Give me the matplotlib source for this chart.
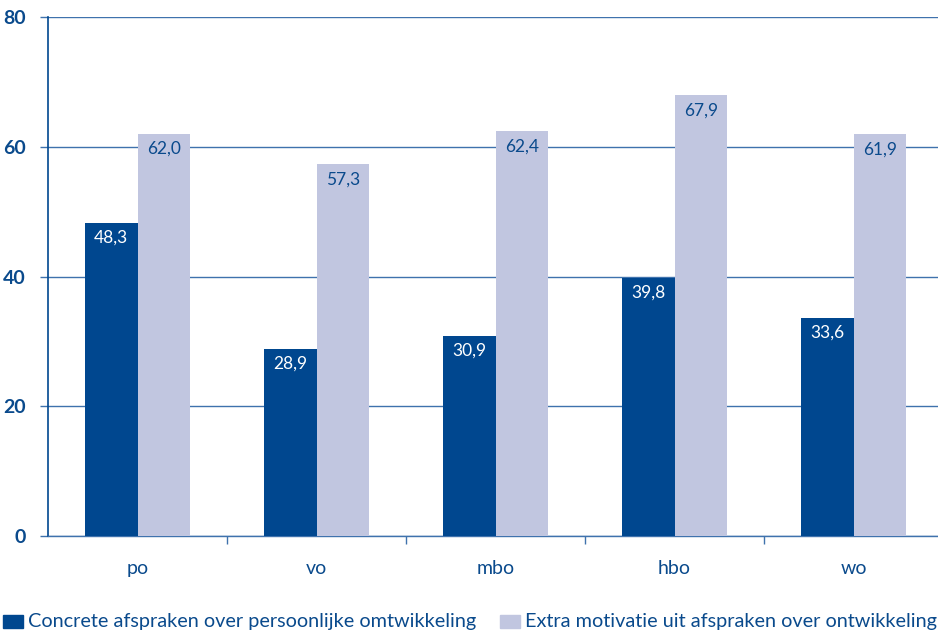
import numpy as np
import matplotlib.pyplot as plt
from matplotlib.patches import Rectangle

plt.rcParams['font.family'] = ['Lato', 'DejaVu Sans']

categories = ['po', 'vo', 'mbo', 'hbo', 'wo']
concrete = [48.3, 28.9, 30.9, 39.8, 33.6]
motivatie = [62.0, 57.3, 62.4, 67.9, 61.9]
series_names = ['Concrete afspraken over persoonlijke omtwikkeling',
                'Extra motivatie uit afspraken over ontwikkeling']

dark = '#00478f'
light = '#c1c6e0'
txt = '#0a4a8c'
grid_col = '#3f72ad'

fig = plt.figure(figsize=(9.38, 6.33), dpi=100)
ax = fig.add_axes([48/938, 97/633, 895/938, 519/633])

x = np.arange(len(categories))
w = 0.295
b1 = ax.bar(x - w/2, concrete, w, color=dark, zorder=3)
b2 = ax.bar(x + w/2, motivatie, w, color=light, zorder=3)

for bars, vals, c in [(b1, concrete, 'white'), (b2, motivatie, txt)]:
    for r, v in zip(bars, vals):
        ax.annotate(f'{v:.1f}'.replace('.', ','),
                    (r.get_x() + r.get_width()/2, v),
                    xytext=(0, -15), textcoords='offset pixels',
                    ha='center', va='center', color=c, fontsize=12.5, zorder=4)

ax.set_xlim(-0.5, len(categories) - 0.5)
ax.set_ylim(0, 80)
ax.set_yticks(range(0, 81, 20))
ax.yaxis.grid(True, color=grid_col, linewidth=1)
ax.set_axisbelow(True)

ax.set_xticks(x)
ax.set_xticklabels(categories)
ax.set_xticks(np.arange(0.5, len(categories) - 0.5), minor=True)
ax.tick_params(axis='x', which='major', length=0, pad=17, labelsize=14, labelcolor=txt)
ax.tick_params(axis='x', which='minor', length=6, width=1, color=grid_col, direction='out')
ax.tick_params(axis='y', length=6, width=1, color=grid_col, pad=10, labelsize=14, labelcolor=txt)
for t in ax.get_yticklabels():
    t.set_fontweight('bold')

for s in ['top', 'right']:
    ax.spines[s].set_visible(False)
ax.spines['left'].set_color(dark)
ax.spines['left'].set_linewidth(1.2)
ax.spines['bottom'].set_color(grid_col)
ax.spines['bottom'].set_linewidth(1)

# legend
for x0, col, name in [(3, dark, series_names[0]), (500, light, series_names[1])]:
    fig.add_artist(Rectangle((x0/938, (633-628)/633), 20/938, 13/633,
                             transform=fig.transFigure, color=col))
    fig.text((x0 + 25)/938, (633-621)/633, name, va='center', ha='left',
             fontsize=14.3, color=txt)

fig.savefig('out.png', dpi=100)
